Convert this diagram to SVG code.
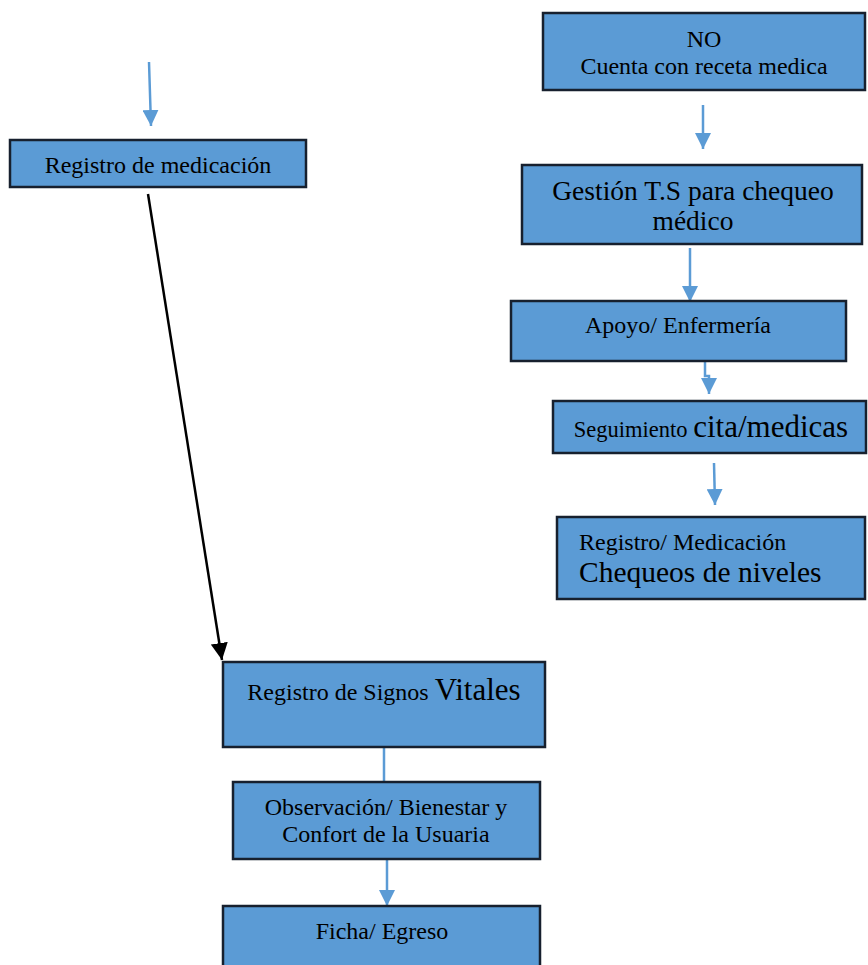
<svg xmlns="http://www.w3.org/2000/svg" width="868" height="965" viewBox="0 0 868 965">
<style>
.box{fill:#5B9BD5;stroke:#17202e;stroke-width:2.5}
.t{font-family:"Liberation Serif",serif;fill:#000;text-anchor:middle;font-size:24px}
.s{font-family:"Liberation Serif",serif;fill:#000;text-anchor:start;font-size:24px}
.c{stroke:#5B9BD5;stroke-width:2.5;fill:none}
.k{stroke:#000;stroke-width:2.5;fill:none}
</style>
<defs>
<marker id="ab" viewBox="0 0 10 10" refX="10" refY="5" markerWidth="6.4" markerHeight="6.4" orient="auto" markerUnits="strokeWidth"><path d="M0,0 L10,5 L0,10 z" fill="#5B9BD5"/></marker>
<marker id="ak" viewBox="0 0 10 10" refX="10" refY="5" markerWidth="6.8" markerHeight="6.8" orient="auto" markerUnits="strokeWidth"><path d="M0,0 L10,5 L0,10 z" fill="#000"/></marker>
</defs>
<rect width="868" height="965" fill="#fff"/>
<g id="connectors">
<path class="c" d="M149,62 L151,126" marker-end="url(#ab)"/>
<path class="c" d="M703,105 L703,149" marker-end="url(#ab)"/>
<path class="c" d="M690,248 L690,302" marker-end="url(#ab)"/>
<path class="c" d="M705,362 L705,376 L709,376 L709,394" marker-end="url(#ab)"/>
<path class="c" d="M714,463 L715,505" marker-end="url(#ab)"/>
<path class="k" d="M148,194 L222,660" marker-end="url(#ak)"/>
<path class="c" d="M384,748 L384,782"/>
<path class="c" d="M387,859 L387,906" marker-end="url(#ab)"/>
</g>
<g id="n1"><rect class="box" x="10" y="140" width="296" height="47"/><text class="t" x="158" y="173">Registro de medicación</text></g>
<g id="n2"><rect class="box" x="543" y="13" width="322" height="77"/><text class="t" x="704" y="47">NO</text><text class="t" x="704" y="74">Cuenta con receta medica</text></g>
<g id="n3"><rect class="box" x="522" y="165" width="340" height="79"/><text class="t" x="693" y="200" style="font-size:27.5px">Gestión T.S para chequeo</text><text class="t" x="693" y="230" style="font-size:27.5px">médico</text></g>
<g id="n4"><rect class="box" x="511" y="301" width="335" height="60"/><text class="t" x="678" y="333">Apoyo/ Enfermería</text></g>
<g id="n5"><rect class="box" x="553" y="401" width="313" height="52"/><text class="t" x="711" y="437"><tspan style="font-size:22.5px">Seguimiento </tspan><tspan style="font-size:31px">cita/medicas</tspan></text></g>
<g id="n6"><rect class="box" x="557" y="517" width="308" height="82"/><text class="s" x="579" y="550">Registro/ Medicación</text><text class="s" x="579" y="582" style="font-size:29.5px">Chequeos de niveles</text></g>
<g id="n7"><rect class="box" x="223" y="662" width="322" height="85"/><text class="t" x="384" y="700"><tspan>Registro de Signos </tspan><tspan style="font-size:31px">Vitales</tspan></text></g>
<g id="n8"><rect class="box" x="233" y="782" width="307" height="77"/><text class="t" x="386" y="815">Observación/ Bienestar y</text><text class="t" x="386" y="842">Confort de la Usuaria</text></g>
<g id="n9"><rect class="box" x="223" y="906" width="317" height="70"/><text class="t" x="382" y="939">Ficha/ Egreso</text></g>
</svg>
